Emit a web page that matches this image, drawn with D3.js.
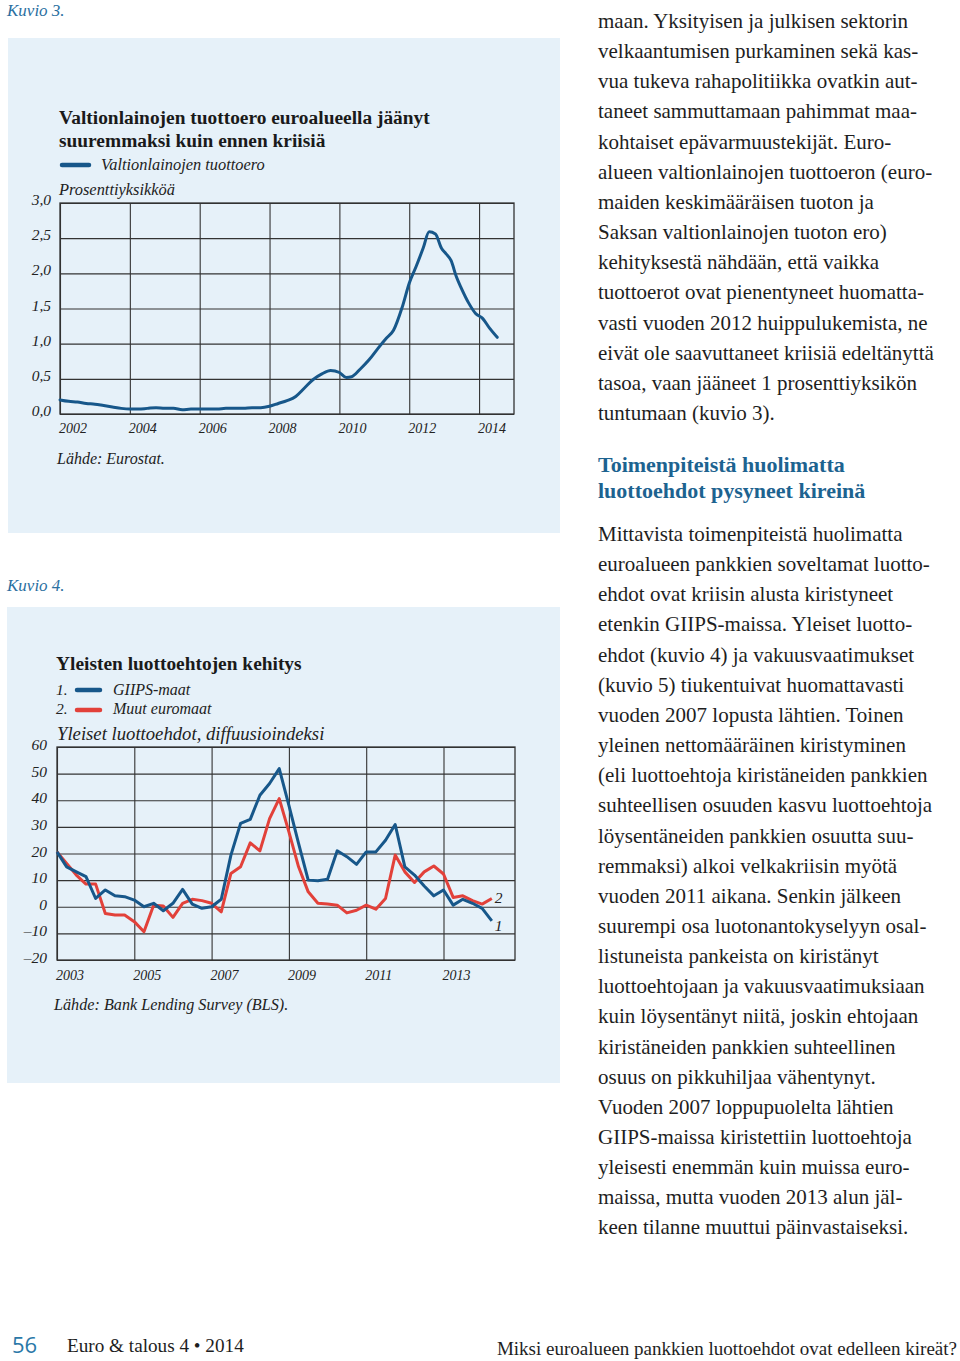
<!DOCTYPE html>
<html>
<head>
<meta charset="utf-8">
<script src="https://cdn.jsdelivr.net/npm/d3@7"></script>
<style>
  html, body { margin: 0; padding: 0; background: #ffffff; }
  svg { display: block; }
</style>
</head>
<body>
<svg id="page" width="960" height="1361"></svg>
<script>
// ---------- DATA ----------
// Kuvio 3: Valtionlainojen tuottoero (prosenttiyksikköä)
const yieldDates = [2002.0, 2002.25, 2002.5, 2002.75, 2003.0, 2003.25, 2003.5, 2003.75, 2004.0, 2004.25, 2004.5, 2004.75,
  2005.0, 2005.25, 2005.5, 2005.75, 2006.0, 2006.25, 2006.5, 2006.75, 2007.0, 2007.25, 2007.5, 2007.75,
  2008.0, 2008.25, 2008.5, 2008.75, 2009.0, 2009.25, 2009.5, 2009.75, 2010.0, 2010.2, 2010.35, 2010.6,
  2010.85, 2011.1, 2011.35, 2011.55, 2011.8, 2012.0, 2012.2, 2012.4, 2012.57, 2012.75, 2012.92, 2013.05,
  2013.2, 2013.35, 2013.5, 2013.7, 2013.9, 2014.1, 2014.3, 2014.52];
const yieldValues = [0.20, 0.18, 0.17, 0.15, 0.14, 0.12, 0.10, 0.08, 0.07, 0.07, 0.08, 0.09,
  0.08, 0.08, 0.06, 0.07, 0.07, 0.07, 0.07, 0.08, 0.08, 0.08, 0.09, 0.09,
  0.11, 0.15, 0.19, 0.25, 0.37, 0.49, 0.57, 0.62, 0.59, 0.52, 0.53, 0.64,
  0.77, 0.93, 1.08, 1.19, 1.52, 1.86, 2.10, 2.36, 2.59, 2.56, 2.36, 2.28,
  2.18, 1.95, 1.78, 1.58, 1.43, 1.36, 1.22, 1.09];
const yieldTicksY = [0, 0.5, 1, 1.5, 2, 2.5, 3];
const yieldTicksX = [2002, 2004, 2006, 2008, 2010, 2012, 2014];

// Kuvio 4: Yleiset luottoehdot, diffuusioindeksi (neljännesvuosittain 2003Q1–2014Q2)
const quarters = d3.range(46).map(i => (2003 + Math.floor(i / 4)) + "Q" + (i % 4 + 1));
const giipsValues = [20.6, 15, 13.1, 11.3, 3.1, 6.3, 4.1, 3.8, 2.5, 0, 1.3, -1.5,
  1.3, 6.5, 1, -0.6, 0, 2.8, 19.4, 31.3, 32.8, 41.9, 46.3, 51.9,
  38.1, 23.8, 10, 9.8, 10.3, 21, 18.8, 15.9, 20.6, 20.6, 25, 30.9,
  15, 11.9, 7.8, 4.1, 6.3, 0.6, 2.8, 1.3, -0.6, -5.3];
const otherValues = [20.6, 16.3, 11.9, 8.5, 8.5, -2.5, -3.1, -3.1, -5.6, -9.4, 0.6, 0.3,
  -4, 1.3, 2.8, 2.3, 1.3, -1.9, 12.5, 15, 24, 21, 33.1, 40.6,
  28.1, 15, 5.6, 1.3, 1, 0.6, -2.3, -1.3, 0.6, -0.9, 3.1, 19.4,
  13.1, 9.1, 13.1, 15.3, 12.3, 3.5, 4.1, 2.3, 1, 3.1];
const creditTicksY = [-20, -10, 0, 10, 20, 30, 40, 50, 60];
const creditTickLabelsY = ["–20", "–10", "0", "10", "20", "30", "40", "50", "60"];
const creditTicksX = [2003, 2005, 2007, 2009, 2011, 2013];

// Body text
const para1 = [
  "maan. Yksityisen ja julkisen sektorin",
  "velkaantumisen purkaminen sekä kas-",
  "vua tukeva rahapolitiikka ovatkin aut-",
  "taneet sammuttamaan pahimmat maa-",
  "kohtaiset epävarmuustekijät. Euro-",
  "alueen valtionlainojen tuottoeron (euro-",
  "maiden keskimääräisen tuoton ja",
  "Saksan valtionlainojen tuoton ero)",
  "kehityksestä nähdään, että vaikka",
  "tuottoerot ovat pienentyneet huomatta-",
  "vasti vuoden 2012 huippulukemista, ne",
  "eivät ole saavuttaneet kriisiä edeltänyttä",
  "tasoa, vaan jääneet 1 prosenttiyksikön",
  "tuntumaan (kuvio 3)."
];
const heading = ["Toimenpiteistä huolimatta", "luottoehdot pysyneet kireinä"];
const para2 = [
  "Mittavista toimenpiteistä huolimatta",
  "euroalueen pankkien soveltamat luotto-",
  "ehdot ovat kriisin alusta kiristyneet",
  "etenkin GIIPS-maissa. Yleiset luotto-",
  "ehdot (kuvio 4) ja vakuusvaatimukset",
  "(kuvio 5) tiukentuivat huomattavasti",
  "vuoden 2007 lopusta lähtien. Toinen",
  "yleinen nettomääräinen kiristyminen",
  "(eli luottoehtoja kiristäneiden pankkien",
  "suhteellisen osuuden kasvu luottoehtoja",
  "löysentäneiden pankkien osuutta suu-",
  "remmaksi) alkoi velkakriisin myötä",
  "vuoden 2011 aikana. Senkin jälkeen",
  "suurempi osa luotonantokyselyyn osal-",
  "listuneista pankeista on kiristänyt",
  "luottoehtojaan ja vakuusvaatimuksiaan",
  "kuin löysentänyt niitä, joskin ehtojaan",
  "kiristäneiden pankkien suhteellinen",
  "osuus on pikkuhiljaa vähentynyt.",
  "Vuoden 2007 loppupuolelta lähtien",
  "GIIPS-maissa kiristettiin luottoehtoja",
  "yleisesti enemmän kuin muissa euro-",
  "maissa, mutta vuoden 2013 alun jäl-",
  "keen tilanne muuttui päinvastaiseksi."
];

// ---------- STYLE ----------
const SERIF = "'Liberation Serif', 'Times New Roman', serif";
const PANEL = "#e6f1f9";
const GRID = "#333333";
const BLUE = "#17578a";
const RED = "#e2413a";
const TEAL = "#2b6f9f";
const TEXT = "#1e1e1e";

const svg = d3.select("#page");

// ---------- KUVIO 3 ----------
svg.append("text").attr("x", 7).attr("y", 16).attr("font-family", SERIF)
  .attr("font-style", "italic").attr("font-size", 17).attr("fill", TEAL).text("Kuvio 3.");
svg.append("rect").attr("x", 8).attr("y", 38).attr("width", 552).attr("height", 495).attr("fill", PANEL);

const g1 = svg.append("g");
g1.append("text").attr("x", 59).attr("y", 124).attr("font-family", SERIF).attr("font-size", 19.4)
  .attr("font-weight", "bold").attr("fill", "#1a1a1a").text("Valtionlainojen tuottoero euroalueella jäänyt");
g1.append("text").attr("x", 59).attr("y", 147).attr("font-family", SERIF).attr("font-size", 19.4)
  .attr("font-weight", "bold").attr("fill", "#1a1a1a").text("suuremmaksi kuin ennen kriisiä");
g1.append("line").attr("x1", 62).attr("x2", 89).attr("y1", 165).attr("y2", 165)
  .attr("stroke", BLUE).attr("stroke-width", 4.5).attr("stroke-linecap", "round");
g1.append("text").attr("x", 101).attr("y", 170).attr("font-family", SERIF).attr("font-style", "italic")
  .attr("font-size", 16.4).attr("fill", "#222").text("Valtionlainojen tuottoero");
g1.append("text").attr("x", 59).attr("y", 195).attr("font-family", SERIF).attr("font-style", "italic")
  .attr("font-size", 16.4).attr("fill", "#222").text("Prosenttiyksikköä");

const x1 = d3.scaleLinear().domain([2002, 2015]).range([60, 514]);
const y1 = d3.scaleLinear().domain([0, 3]).range([414, 203]);

// grid
g1.append("g").attr("transform", "translate(60,0)")
  .call(d3.axisLeft(y1).tickValues(yieldTicksY).tickSize(-(514 - 60)).tickFormat(""))
  .call(g => g.select(".domain").remove())
  .call(g => g.selectAll("line").attr("stroke", GRID).attr("stroke-width", 1.1));
g1.append("g").attr("transform", "translate(0,414)")
  .call(d3.axisBottom(x1).tickValues(yieldTicksX).tickSize(-(414 - 203)).tickFormat(""))
  .call(g => g.select(".domain").remove())
  .call(g => g.selectAll("line").attr("stroke", GRID).attr("stroke-width", 1.1));
g1.append("rect").attr("x", 60).attr("y", 203).attr("width", 454).attr("height", 211)
  .attr("fill", "none").attr("stroke", GRID).attr("stroke-width", 1.3);

// tick labels
g1.selectAll(".ylab").data(yieldTicksY).join("text")
  .attr("x", 51).attr("y", d => y1(d) + 2).attr("text-anchor", "end")
  .attr("font-family", SERIF).attr("font-style", "italic").attr("font-size", 15.5).attr("fill", "#222")
  .text(d => d3.format(".1f")(d).replace(".", ","));
g1.selectAll(".xlab").data(yieldTicksX).join("text")
  .attr("x", d => x1(d) - 1).attr("y", 433)
  .attr("font-family", SERIF).attr("font-style", "italic").attr("font-size", 14).attr("fill", "#222")
  .text(d => d);

const line1 = d3.line().x((d, i) => x1(yieldDates[i])).y(d => y1(d)).curve(d3.curveMonotoneX);
g1.append("path").datum(yieldValues).attr("d", line1).attr("fill", "none")
  .attr("stroke", BLUE).attr("stroke-width", 3).attr("stroke-linejoin", "round").attr("stroke-linecap", "round");

g1.append("text").attr("x", 57).attr("y", 464).attr("font-family", SERIF).attr("font-style", "italic")
  .attr("font-size", 16).attr("fill", "#222").text("Lähde: Eurostat.");

// ---------- KUVIO 4 ----------
svg.append("text").attr("x", 7).attr("y", 591).attr("font-family", SERIF)
  .attr("font-style", "italic").attr("font-size", 17).attr("fill", TEAL).text("Kuvio 4.");
svg.append("rect").attr("x", 7).attr("y", 607).attr("width", 553).attr("height", 476).attr("fill", PANEL);

const g2 = svg.append("g");
g2.append("text").attr("x", 56).attr("y", 670).attr("font-family", SERIF).attr("font-size", 19.4)
  .attr("font-weight", "bold").attr("fill", "#1a1a1a").text("Yleisten luottoehtojen kehitys");
g2.append("text").attr("x", 56).attr("y", 695).attr("font-family", SERIF).attr("font-style", "italic")
  .attr("font-size", 15.5).attr("fill", "#222").text("1.");
g2.append("line").attr("x1", 77).attr("x2", 100).attr("y1", 690).attr("y2", 690)
  .attr("stroke", BLUE).attr("stroke-width", 4.5).attr("stroke-linecap", "round");
g2.append("text").attr("x", 113).attr("y", 695).attr("font-family", SERIF).attr("font-style", "italic")
  .attr("font-size", 16).attr("fill", "#222").text("GIIPS-maat");
g2.append("text").attr("x", 56).attr("y", 714).attr("font-family", SERIF).attr("font-style", "italic")
  .attr("font-size", 15.5).attr("fill", "#222").text("2.");
g2.append("line").attr("x1", 77).attr("x2", 100).attr("y1", 710).attr("y2", 710)
  .attr("stroke", RED).attr("stroke-width", 4.5).attr("stroke-linecap", "round");
g2.append("text").attr("x", 113).attr("y", 714).attr("font-family", SERIF).attr("font-style", "italic")
  .attr("font-size", 16).attr("fill", "#222").text("Muut euromaat");
g2.append("text").attr("x", 57).attr("y", 740).attr("font-family", SERIF).attr("font-style", "italic")
  .attr("font-size", 18.7).attr("fill", "#222").text("Yleiset luottoehdot, diffuusioindeksi");

const x2 = d3.scaleLinear().domain([2003, 2014.85]).range([57, 515]);
const y2 = d3.scaleLinear().domain([-20, 60]).range([960, 747]);
const qDate = q => +q.slice(0, 4) + (+q.slice(5) - 1) / 4;

g2.append("g").attr("transform", "translate(57,0)")
  .call(d3.axisLeft(y2).tickValues(creditTicksY).tickSize(-(515 - 57)).tickFormat(""))
  .call(g => g.select(".domain").remove())
  .call(g => g.selectAll("line").attr("stroke", GRID).attr("stroke-width", 1.1));
g2.append("g").attr("transform", "translate(0,960)")
  .call(d3.axisBottom(x2).tickValues(creditTicksX).tickSize(-(960 - 747)).tickFormat(""))
  .call(g => g.select(".domain").remove())
  .call(g => g.selectAll("line").attr("stroke", GRID).attr("stroke-width", 1.1));
g2.append("rect").attr("x", 57).attr("y", 747).attr("width", 458).attr("height", 213)
  .attr("fill", "none").attr("stroke", GRID).attr("stroke-width", 1.3);

g2.selectAll(".ylab").data(creditTicksY).join("text")
  .attr("x", 47).attr("y", d => y2(d) + 3).attr("text-anchor", "end")
  .attr("font-family", SERIF).attr("font-style", "italic").attr("font-size", 15.5).attr("fill", "#222")
  .text((d, i) => creditTickLabelsY[i]);
g2.selectAll(".xlab").data(creditTicksX).join("text")
  .attr("x", d => x2(d) - 1).attr("y", 980)
  .attr("font-family", SERIF).attr("font-style", "italic").attr("font-size", 14).attr("fill", "#222")
  .text(d => d);

const line2 = d3.line().x((d, i) => x2(qDate(quarters[i]))).y(d => y2(d));
g2.append("path").datum(otherValues).attr("d", line2).attr("fill", "none")
  .attr("stroke", RED).attr("stroke-width", 3).attr("stroke-linejoin", "round");
g2.append("path").datum(giipsValues).attr("d", line2).attr("fill", "none")
  .attr("stroke", BLUE).attr("stroke-width", 3).attr("stroke-linejoin", "round");

const last = quarters.length - 1;
g2.append("text").attr("x", x2(qDate(quarters[last])) + 3).attr("y", y2(otherValues[last]) + 5)
  .attr("font-family", SERIF).attr("font-style", "italic").attr("font-size", 15.5).attr("fill", "#222").text("2");
g2.append("text").attr("x", x2(qDate(quarters[last])) + 3).attr("y", y2(giipsValues[last]) + 10)
  .attr("font-family", SERIF).attr("font-style", "italic").attr("font-size", 15.5).attr("fill", "#222").text("1");

g2.append("text").attr("x", 54).attr("y", 1010).attr("font-family", SERIF).attr("font-style", "italic")
  .attr("font-size", 16.2).attr("fill", "#222").text("Lähde: Bank Lending Survey (BLS).");

// ---------- BODY TEXT ----------
const LH = 30.15;
const body = svg.append("g").attr("font-family", SERIF).attr("font-size", 21).attr("fill", TEXT);
body.selectAll(".p1").data(para1).join("text")
  .attr("x", 598).attr("y", (d, i) => 28 + i * LH).text(d => d);
svg.selectAll(".hd").data(heading).join("text")
  .attr("x", 598).attr("y", (d, i) => 472 + i * 26)
  .attr("font-family", SERIF).attr("font-size", 22).attr("font-weight", "bold").attr("fill", "#1d6390")
  .text(d => d);
body.selectAll(".p2").data(para2).join("text")
  .attr("x", 598).attr("y", (d, i) => 541 + i * LH).text(d => d);

// ---------- FOOTER ----------
svg.append("text").attr("x", 12).attr("y", 1353).attr("font-family", "'Open Sans', sans-serif")
  .attr("font-size", 22).attr("fill", "#2a78a8").text("56");
svg.append("text").attr("x", 67).attr("y", 1352).attr("font-family", SERIF)
  .attr("font-size", 19.2).attr("fill", TEXT).text("Euro & talous 4 • 2014");
svg.append("text").attr("x", 957).attr("y", 1355).attr("text-anchor", "end").attr("font-family", SERIF)
  .attr("font-size", 19).attr("fill", TEXT).text("Miksi euroalueen pankkien luottoehdot ovat edelleen kireät?");
</script>
</body>
</html>
